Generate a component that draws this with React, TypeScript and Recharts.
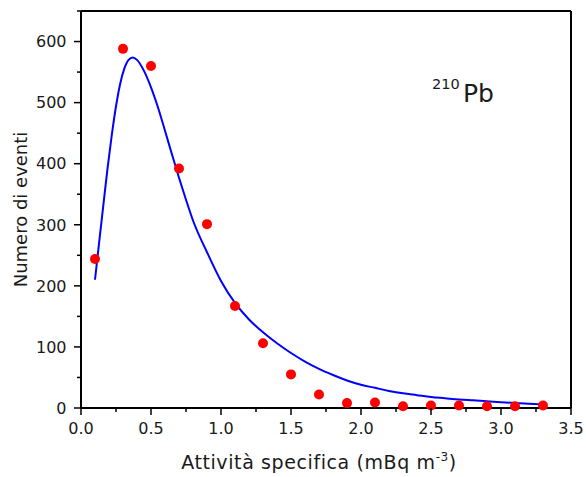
import React from 'react';
import {
  ComposedChart,
  Line,
  Scatter,
  XAxis,
  YAxis,
  ReferenceLine,
  Label
} from 'recharts';

// measured counts (red dots)
const pointX = [0.1, 0.3, 0.5, 0.7, 0.9, 1.1, 1.3, 1.5, 1.7, 1.9, 2.1, 2.3, 2.5, 2.7, 2.9, 3.1, 3.3];
const pointY = [244, 588, 560, 392, 301, 167, 106, 55, 22, 8, 9, 3, 4, 4, 3, 3, 4];

// fitted curve (blue line)
const curveX = [
  0.1, 0.13, 0.16, 0.19, 0.22, 0.25, 0.28, 0.31, 0.34, 0.37, 0.4, 0.45, 0.5, 0.55, 0.6, 0.65, 0.7, 0.75, 0.8, 0.9,
  1.0, 1.1, 1.2, 1.3, 1.4, 1.5, 1.6, 1.7, 1.8, 1.9, 2.0, 2.1, 2.2, 2.3, 2.4, 2.5, 2.6, 2.7, 2.8, 2.9, 3.0, 3.1, 3.2, 3.3
];
const curveY = [
  210, 272, 333, 393, 447, 494, 531, 556, 570, 574, 570, 552, 525, 492, 454, 415, 377, 341, 307, 255,
  208, 172, 145, 124, 106, 90, 76, 64, 54, 45, 38, 33, 28, 24, 21, 18, 16, 14, 12.5, 11, 9.5, 8.2, 7, 6
];

const xTicks = [0, 0.25, 0.5, 0.75, 1, 1.25, 1.5, 1.75, 2, 2.25, 2.5, 2.75, 3, 3.25, 3.5];
const yTicks = [0, 50, 100, 150, 200, 250, 300, 350, 400, 450, 500, 550, 600, 650];

const FONT = '"DejaVu Sans", Verdana, sans-serif';
const INK = '#1a1a1a';

const points = pointX.map((x, i) => ({ x, y: pointY[i] }));
const curve = curveX.map((x, i) => ({ x, y: curveY[i] }));

const XTick = ({ x, y, payload }: any) => {
  const v = payload.value as number;
  const major = Math.abs(v * 2 - Math.round(v * 2)) < 1e-6;
  return (
    <g>
      <line x1={x} x2={x} y1={y} y2={y + (major ? 7 : 4)} stroke="#000" strokeWidth={1.5} />
      {major && (
        <text x={x} y={y + 25.5} textAnchor="middle" fontSize={16} fontFamily={FONT} fill={INK}>
          {v.toFixed(1)}
        </text>
      )}
    </g>
  );
};

const YTick = ({ x, y, payload }: any) => {
  const v = payload.value as number;
  const major = v % 100 === 0;
  return (
    <g>
      <line x1={x} x2={x - (major ? 7 : 4)} y1={y} y2={y} stroke="#000" strokeWidth={1.5} />
      {major && (
        <text x={x - 14.5} y={y} dy="0.36em" textAnchor="end" fontSize={16} fontFamily={FONT} fill={INK}>
          {v}
        </text>
      )}
    </g>
  );
};

const Dot = ({ cx, cy }: any) => <circle cx={cx} cy={cy} r={5} fill="#ff0000" />;

export default function App() {
  return (
    <div style={{ position: 'absolute', left: 0, top: 0, width: 586, height: 477, background: '#fff' }}>
      <ComposedChart width={586} height={477} margin={{ top: 11, right: 15, left: 0, bottom: 0 }}>
        <XAxis
          type="number"
          dataKey="x"
          domain={[0, 3.5]}
          ticks={xTicks}
          interval={0}
          tickSize={0}
          tickMargin={0}
          tick={<XTick />}
          height={69}
          axisLine={{ stroke: '#000', strokeWidth: 2 }}
        >
          <Label
            content={({ viewBox }: any) => (
              <text
                x={viewBox.x + viewBox.width / 2 - 7}
                y={viewBox.y + 61}
                textAnchor="middle"
                fontSize={19}
                letterSpacing={0.6}
                fontFamily={FONT}
                fill={INK}
              >
                Attività specifica (mBq m
                <tspan fontSize={12} dy={-8}>-3</tspan>
                <tspan dy={8}>)</tspan>
              </text>
            )}
          />
        </XAxis>
        <YAxis
          type="number"
          domain={[0, 650]}
          ticks={yTicks}
          interval={0}
          tickSize={0}
          tickMargin={0}
          tick={<YTick />}
          width={81}
          axisLine={{ stroke: '#000', strokeWidth: 2 }}
        >
          <Label
            content={({ viewBox }: any) => {
              const cx = 26.5;
              const cy = viewBox.y + viewBox.height / 2;
              return (
                <text
                  x={cx}
                  y={cy}
                  transform={`rotate(-90 ${cx} ${cy})`}
                  textAnchor="middle"
                  fontSize={18}
                  fontFamily={FONT}
                  fill={INK}
                >
                  Numero di eventi
                </text>
              );
            }}
          />
        </YAxis>
        <ReferenceLine y={650} stroke="#000" strokeWidth={2} />
        <ReferenceLine x={3.5} stroke="#000" strokeWidth={2} />
        <Scatter data={points} dataKey="y" shape={<Dot />} isAnimationActive={false} />
        <Line
          data={curve}
          dataKey="y"
          type="monotone"
          stroke="#0000ff"
          strokeWidth={2}
          dot={false}
          activeDot={false}
          isAnimationActive={false}
        />
      </ComposedChart>
      <svg
        width={586}
        height={477}
        style={{ position: 'absolute', left: 0, top: 0, pointerEvents: 'none' }}
      >
        <text x={432} y={88.5} fontSize={14.5} fontFamily={FONT} fill={INK}>210</text>
        <text x={463} y={101.7} fontSize={25} fontFamily={FONT} fill={INK}>Pb</text>
      </svg>
    </div>
  );
}
